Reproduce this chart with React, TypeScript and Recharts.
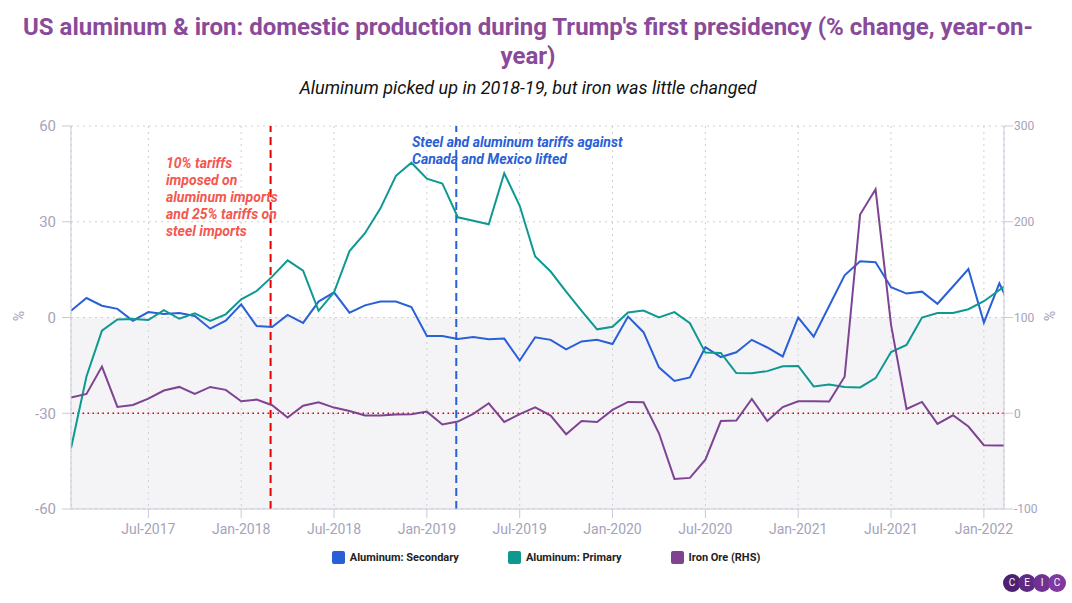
import React from 'react';
import { LineChart, Line, XAxis, YAxis, CartesianGrid, ReferenceLine, ReferenceArea } from 'recharts';

const MONTH_NAMES = ['Jan', 'Feb', 'Mar', 'Apr', 'May', 'Jun', 'Jul', 'Aug', 'Sep', 'Oct', 'Nov', 'Dec'];

// monthly observations, Feb-2017 .. Mar-2022
const months: string[] = [];
for (let i = 1; i <= 62; i++) {
  months.push(`${MONTH_NAMES[i % 12]}-${2017 + Math.floor(i / 12)}`);
}

// Aluminum: Secondary, % y/y (left axis)
const secondary: number[] = [
  2.1, 6.1, 3.7, 2.7, -1.0, 1.7, 1.1, 1.4, 0.5, -3.5, -1.0, 4.1, -2.7, -3.0, 0.8, -1.7,
  5.0, 7.9, 1.5, 3.8, 5.0, 5.0, 3.3, -5.8, -5.8, -6.7, -6.1, -6.8, -6.6, -13.5, -6.2, -7.0,
  -10.0, -7.5, -7.0, -8.3, 0.3, -4.6, -15.6, -19.9, -18.8, -9.3, -12.4, -10.9, -7.0, -9.4,
  -12.2, 0.0, -6.0, 3.6, 13.2, 17.6, 17.3, 9.5, 7.5, 8.1, 4.3, 9.7, 15.2, -1.6, 10.7, 0.5,
];

// Aluminum: Primary, % y/y (left axis)
const primary: number[] = [
  -41.0, -18.5, -4.1, -0.6, -0.5, -0.8, 2.3, -0.4, 1.3, -1.1, 1.0, 5.7, 8.3, 12.8, 17.9, 14.7,
  2.1, 7.9, 20.8, 26.4, 34.2, 44.4, 48.5, 43.5, 42.0, 31.4, 30.3, 29.2, 45.2, 35.0, 19.1, 14.4,
  8.1, 2.1, -3.7, -2.9, 1.6, 2.2, 0.0, 1.7, -1.8, -11.0, -11.1, -17.4, -17.5, -16.8,
  -15.3, -15.2, -21.6, -21.0, -21.8, -21.9, -19.0, -10.8, -8.6, 0.0, 1.4, 1.4, 2.6, 5.1, 8.6, 12.0,
];

// Iron Ore, % y/y (right axis)
const ironOre: number[] = [
  16.4, 20.2, 48.7, 6.6, 8.7, 15.3, 23.7, 27.5, 20.2, 27.5, 24.4, 12.5, 14.3, 8.4, -4.5, 7.9,
  11.5, 5.9, 2.4, -2.4, -2.4, -1.4, -1.0, 1.7, -11.8, -8.7, -0.7, 10.4, -9.1, -1.0, 6.2, -2.4,
  -21.9, -8.0, -9.1, 3.5, 11.8, 11.5, -20.9, -68.6, -67.5, -48.5, -8.2, -7.7, 15.0, -8.0,
  6.5, 12.5, 12.5, 12.2, 38.1, 207.5, 233.9, 92.3, 4.5, 11.8, -11.1, -2.1, -13.9, -33.4, -33.8, -33.8,
];

const xTickLabels = ['Jul-2017', 'Jan-2018', 'Jul-2018', 'Jan-2019', 'Jul-2019', 'Jan-2020', 'Jul-2020', 'Jan-2021', 'Jul-2021', 'Jan-2022'];
const leftTicks = [-60, -30, 0, 30, 60];
const rightTicks = [-100, 0, 100, 200, 300];

// tariff events (months since Jan-2017)
const tariffsImposed = 13.9;
const tariffsLifted = 25.9;

const chartData = months.map((label, i) => ({
  t: i + 1,
  label,
  secondary: secondary[i],
  primary: primary[i],
  ironOre: ironOre[i],
}));

const xTicks = xTickLabels.map((l) => months.indexOf(l) + 1);

const colors = {
  secondary: '#2a60d6',
  primary: '#0e9990',
  ironOre: '#7e4491',
  title: '#8a4a9a',
  axis: '#cbc8d8',
  tick: '#a6a3bb',
  grid: '#cfcfd8',
};

const fontFamily = 'Roboto, "Noto Sans", sans-serif';

const legendItems = [
  { name: 'Aluminum: Secondary', color: colors.secondary },
  { name: 'Aluminum: Primary', color: colors.primary },
  { name: 'Iron Ore (RHS)', color: colors.ironOre },
];

const logoColors = ['#4b2170', '#5e2a84', '#6f3293', '#7f38a0'];

export default function App() {
  return (
    <div style={{ position: 'absolute', left: 0, top: 0, width: 1072, height: 603, background: '#fff', fontFamily, overflow: 'hidden' }}>
      <div style={{ position: 'absolute', left: 0, top: 13, width: 1056, textAlign: 'center', color: colors.title, fontWeight: 700, fontSize: 24, lineHeight: '29px' }}>
        <div style={{ whiteSpace: 'nowrap' }}>US aluminum &amp; iron: domestic production during Trump's first presidency (% change, year-on-</div>
        <div>year)</div>
      </div>
      <div style={{ position: 'absolute', left: 0, top: 77, width: 1056, textAlign: 'center', fontStyle: 'italic', fontSize: 18, color: '#111' }}>
        Aluminum picked up in 2018-19, but iron was little changed
      </div>

      <div style={{ position: 'absolute', left: 0, top: 0 }}>
        <LineChart width={1072} height={603} data={chartData} margin={{ top: 126, right: 8, bottom: 64, left: 11 }}>
          <ReferenceArea yAxisId="left" y1={-60} y2={0} fill="#f4f4f7" fillOpacity={1} stroke="none" zIndex={-200} />
          <CartesianGrid yAxisId="left" stroke={colors.grid} strokeDasharray="2 4" />
          <XAxis
            type="number"
            dataKey="t"
            domain={[1, 61.3]}
            allowDataOverflow
            ticks={xTicks}
            tickFormatter={(v: number) => months[v - 1]}
            height={30}
            tickSize={9}
            tickMargin={6}
            stroke={colors.axis}
            tick={{ fill: colors.tick, fontSize: 14 }}
          />
          <YAxis
            yAxisId="left"
            domain={[-60, 60]}
            ticks={leftTicks}
            width={60}
            tickSize={9}
            tickMargin={6}
            stroke={colors.axis}
            tick={{ fill: colors.tick, fontSize: 15 }}
          />
          <YAxis
            yAxisId="right"
            orientation="right"
            domain={[-100, 300]}
            ticks={rightTicks}
            width={60}
            tickSize={9}
            tickMargin={1}
            stroke={colors.axis}
            tick={{ fill: colors.tick, fontSize: 12 }}
          />
          <ReferenceLine yAxisId="right" y={0} stroke="#d40000" strokeDasharray="1.5 3.5" strokeWidth={1.5} />
          <ReferenceLine yAxisId="left" x={tariffsImposed} stroke="#e80000" strokeDasharray="8 5" strokeWidth={2} />
          <ReferenceLine yAxisId="left" x={tariffsLifted} stroke={colors.secondary} strokeDasharray="8 5" strokeWidth={2} />
          <Line yAxisId="left" type="linear" dataKey="secondary" stroke={colors.secondary} strokeWidth={2} dot={false} isAnimationActive={false} />
          <Line yAxisId="left" type="linear" dataKey="primary" stroke={colors.primary} strokeWidth={2} dot={false} isAnimationActive={false} />
          <Line yAxisId="right" type="linear" dataKey="ironOre" stroke={colors.ironOre} strokeWidth={2} dot={false} isAnimationActive={false} />
        </LineChart>
      </div>

      {/* annotations */}
      <div style={{ position: 'absolute', left: 166, top: 155, color: '#f4574f', fontWeight: 700, fontStyle: 'italic', fontSize: 14, lineHeight: '17px' }}>
        10% tariffs<br />imposed on<br />aluminum imports<br />and 25% tariffs on<br />steel imports
      </div>
      <div style={{ position: 'absolute', left: 412, top: 134, color: colors.secondary, fontWeight: 700, fontStyle: 'italic', fontSize: 14, lineHeight: '17px' }}>
        Steel and aluminum tariffs against<br />Canada and Mexico lifted
      </div>

      {/* axis units */}
      <div style={{ position: 'absolute', left: 14, top: 308, color: colors.tick, fontSize: 14, transform: 'rotate(-90deg)' }}>%</div>
      <div style={{ position: 'absolute', left: 1044, top: 308, color: colors.tick, fontSize: 14, transform: 'rotate(90deg)' }}>%</div>

      {/* legend */}
      <div style={{ position: 'absolute', left: 0, top: 551, width: 1072, display: 'flex', justifyContent: 'center', gap: 49, paddingLeft: 20, boxSizing: 'border-box' }}>
        {legendItems.map((item) => (
          <div key={item.name} style={{ display: 'flex', alignItems: 'center', gap: 5 }}>
            <span style={{ width: 13, height: 13, borderRadius: 2, background: item.color, display: 'inline-block' }} />
            <span style={{ fontSize: 11, fontWeight: 700, color: '#222' }}>{item.name}</span>
          </div>
        ))}
      </div>

      {/* logo */}
      <div style={{ position: 'absolute', left: 1003, top: 574, display: 'flex' }}>
        {['C', 'E', 'I', 'C'].map((ch, i) => (
          <div key={i} style={{ width: 18, height: 18, borderRadius: 9, background: logoColors[i], color: '#fff', fontSize: 10, lineHeight: '18px', textAlign: 'center', marginLeft: i === 0 ? 0 : -3 }}>{ch}</div>
        ))}
      </div>
    </div>
  );
}
